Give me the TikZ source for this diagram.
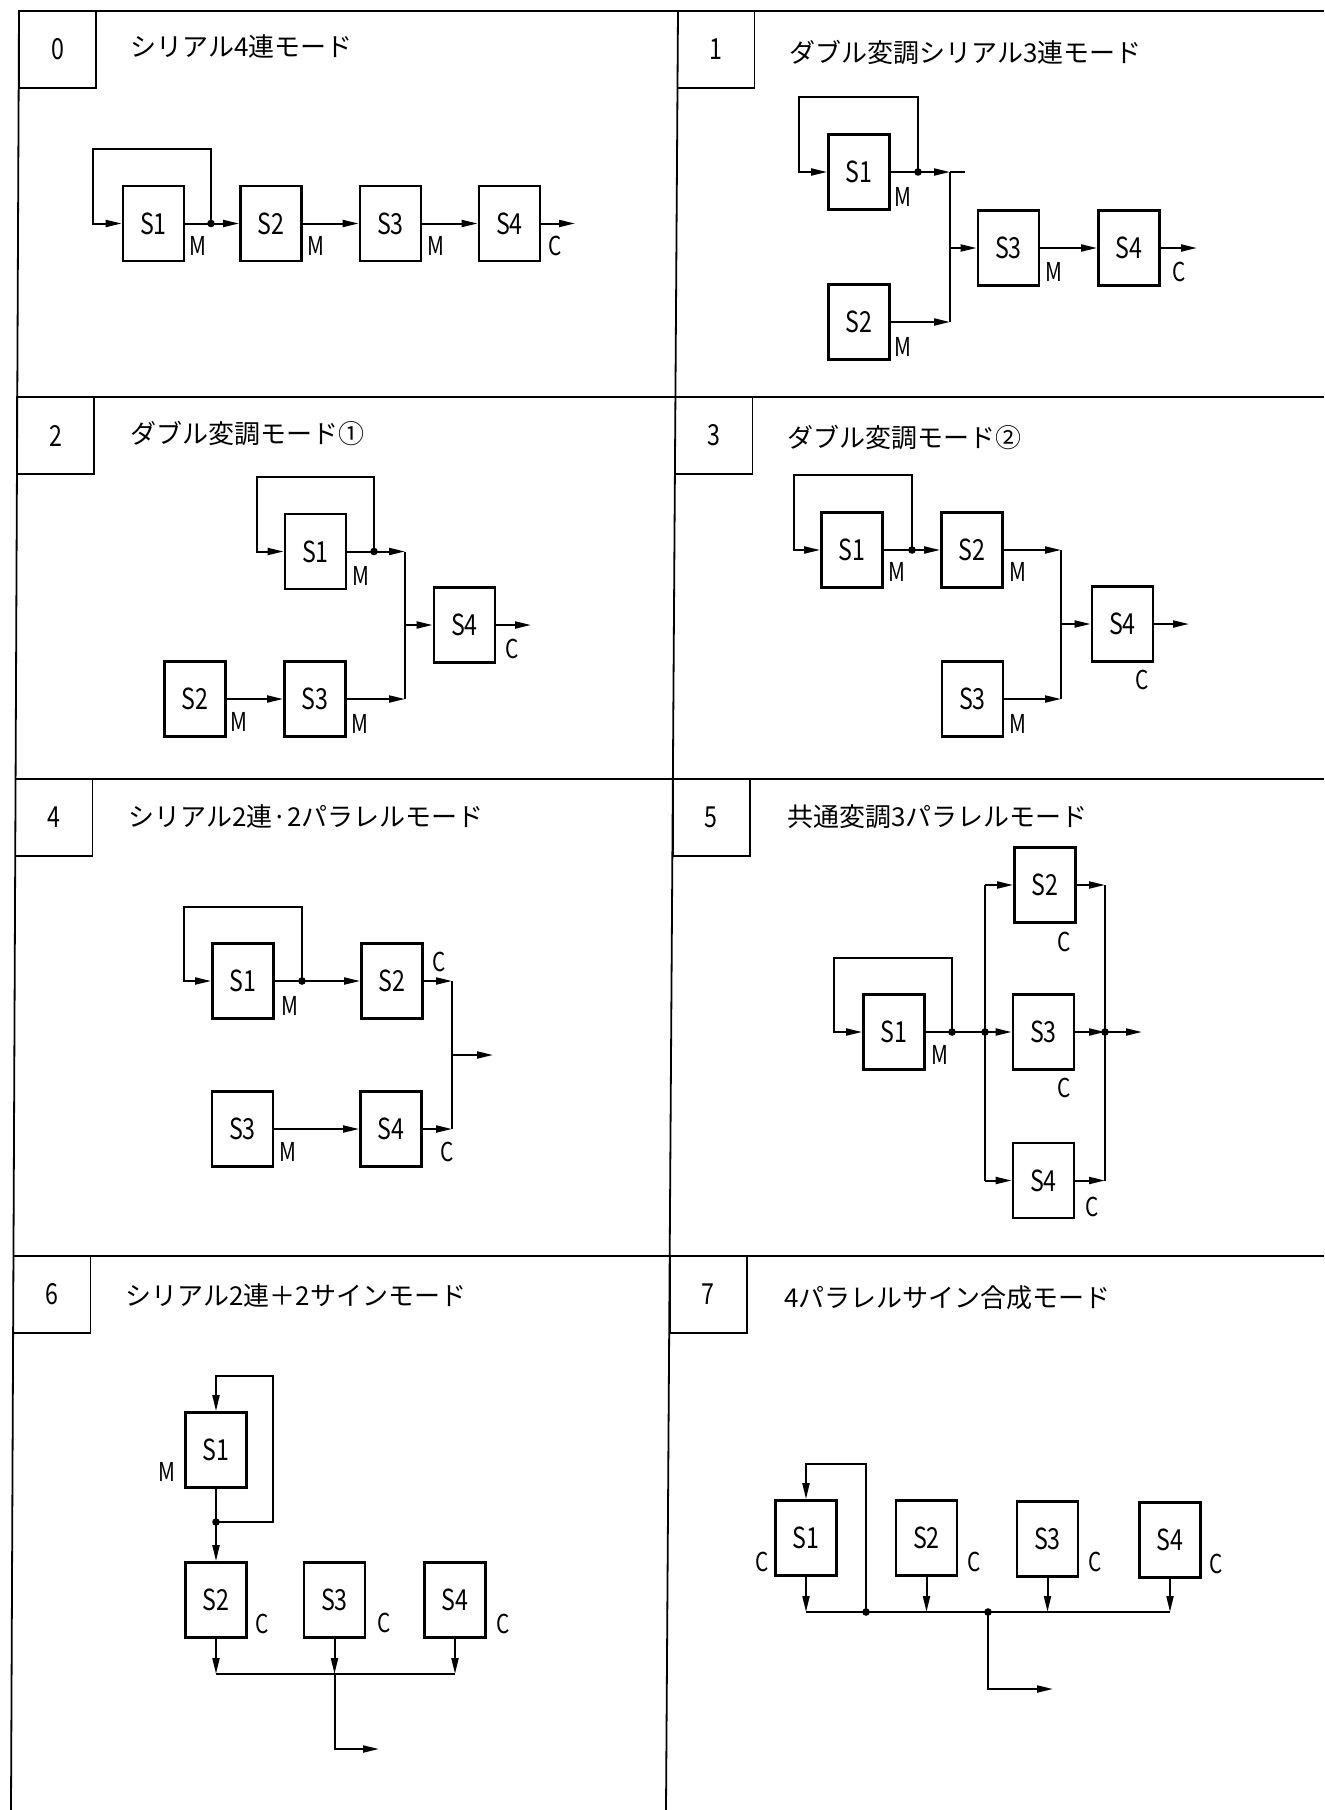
\documentclass[tikz,border=0pt]{standalone}
\usepackage{fontspec}
\setmainfont{Noto Sans CJK JP}
\usetikzlibrary{arrows.meta}
\newcommand\cnd[1]{\scalebox{0.8}[1]{#1}}
\begin{document}
\begin{tikzpicture}[x=0.5pt,y=-0.5pt,
  frame/.style={line width=0.9pt},
  numbox/.style={draw,line width=0.9pt,minimum width=38.5pt,minimum height=38.5pt,inner sep=0pt,font=\fontsize{14.5}{16}\selectfont},
  ttl/.style={anchor=west,inner sep=0pt,font=\fontsize{13}{15}\selectfont},
  sbox/.style={draw,line width=1.4pt,minimum width=30.5pt,minimum height=37.5pt,inner sep=0pt,font=\fontsize{14.5}{16}\selectfont},
  lab/.style={inner sep=0pt,font=\fontsize{13}{14}\selectfont},
  conn/.style={line width=1pt},
  arr/.style={conn,-{Triangle[length=8pt,width=3.5pt]}},
]
\useasboundingbox (0,0) rectangle (1324,1810);
\fill[white] (0,0) rectangle (1324,1810);
% ---------- frame ----------
\draw[frame] (19,11) -- (1324,11);
\draw[frame] (17.2,397) -- (1324,397);
\draw[frame] (15.6,779) -- (1324,779);
\draw[frame] (13.4,1256) -- (1324,1256);
\draw[frame] (19,11) -- (11,1810);
\draw[frame] (678,11) -- (666,1810);
% ---------- number boxes and titles ----------
\node[numbox] (n0) at (57.5,49.5) {\cnd{0}};
\node[numbox] (n1) at (716,49.5) {\cnd{1}};
\node[numbox] (n2) at (55.7,435.5) {\cnd{2}};
\node[numbox] (n3) at (714,435.5) {\cnd{3}};
\node[numbox] (n4) at (54,817.5) {\cnd{4}};
\node[numbox] (n5) at (711.3,817.5) {\cnd{5}};
\node[numbox] (n6) at (52,1294.5) {\cnd{6}};
\node[numbox] (n7) at (708.2,1294.5) {\cnd{7}};
\node[ttl] (t0) at (130,47) {シリアル4連モード};
\node[ttl] (t1) at (789,52) {ダブル変調シリアル3連モード};
\node[ttl] (t2) at (130,433) {ダブル変調モード①};
\node[ttl] (t3) at (787,437) {ダブル変調モード②};
\node[ttl] (t4) at (128,817) {シリアル2連·2パラレルモード};
\node[ttl] (t5) at (787,817) {共通変調3パラレルモード};
\node[ttl] (t6) at (125,1295) {シリアル2連＋2サインモード};
\node[ttl] (t7) at (784,1298) {4パラレルサイン合成モード};
% ---------- panel 0 ----------
\node[sbox] (p0s1) at (153.5,223.5) {\cnd{S1}};
\node[sbox] (p0s2) at (271,223.5) {\cnd{S2}};
\node[sbox] (p0s3) at (390.5,223.5) {\cnd{S3}};
\node[sbox] (p0s4) at (509.5,223.5) {\cnd{S4}};
\node[lab] (p0l1) at (198,246) {\cnd{M}};
\node[lab] (p0l2) at (316,246) {\cnd{M}};
\node[lab] (p0l3) at (436,246) {\cnd{M}};
\node[lab] (p0l4) at (555,246) {\cnd{C}};
\coordinate (p0d) at (211,223.5);
\coordinate (p0fb) at (93,149);
\coordinate (p0o) at (575,223.5);
\draw[conn] (p0s1.east) -- (p0d);
\draw[arr] (p0d) |- (p0fb) |- (p0s1.west);
\draw[arr] (p0d) -- (p0s2.west);
\draw[arr] (p0s2.east) -- (p0s3.west);
\draw[arr] (p0s3.east) -- (p0s4.west);
\draw[arr] (p0s4.east) -- (p0o);
\fill (p0d) circle (3.8);
% ---------- panel 1 ----------
\node[sbox] (p1s1) at (859,172) {\cnd{S1}};
\node[sbox] (p1s2) at (859,322) {\cnd{S2}};
\node[sbox] (p1s3) at (1008.5,248) {\cnd{S3}};
\node[sbox] (p1s4) at (1129,248) {\cnd{S4}};
\node[lab] (p1l1) at (903,197) {\cnd{M}};
\node[lab] (p1l2) at (903,347) {\cnd{M}};
\node[lab] (p1l3) at (1054,272) {\cnd{M}};
\node[lab] (p1l4) at (1179,272) {\cnd{C}};
\coordinate (p1d) at (918,172);
\coordinate (p1fb) at (799,97);
\coordinate (p1bt) at (950,172);
\coordinate (p1bb) at (950,322);
\coordinate (p1bm) at (950,248);
\coordinate (p1stub) at (965,172);
\coordinate (p1o) at (1197,248);
\draw[conn] (p1s1.east) -- (p1d);
\draw[arr] (p1d) |- (p1fb) |- (p1s1.west);
\draw[arr] (p1d) -- (p1bt);
\draw[conn] (p1bt) -- (p1stub);
\draw[conn] (p1bt) -- (p1bb);
\draw[arr] (p1s2.east) -- (p1bb);
\draw[arr] (p1bm) -- (p1s3.west);
\draw[arr] (p1s3.east) -- (p1s4.west);
\draw[arr] (p1s4.east) -- (p1o);
\fill (p1d) circle (3.8);
% ---------- panel 2 ----------
\node[sbox] (p2s1) at (315.5,551.5) {\cnd{S1}};
\node[sbox] (p2s2) at (195,699) {\cnd{S2}};
\node[sbox] (p2s3) at (315,699) {\cnd{S3}};
\node[sbox] (p2s4) at (464.5,625) {\cnd{S4}};
\node[lab] (p2l1) at (361,576) {\cnd{M}};
\node[lab] (p2l2) at (239,722) {\cnd{M}};
\node[lab] (p2l3) at (360,724) {\cnd{M}};
\node[lab] (p2l4) at (512,649) {\cnd{C}};
\coordinate (p2d) at (374,551.5);
\coordinate (p2fb) at (257,477);
\coordinate (p2bt) at (405,551.5);
\coordinate (p2bb) at (405,699);
\coordinate (p2bm) at (405,625);
\coordinate (p2o) at (531,625);
\draw[conn] (p2s1.east) -- (p2d);
\draw[arr] (p2d) |- (p2fb) |- (p2s1.west);
\draw[arr] (p2d) -- (p2bt);
\draw[conn] (p2bt) -- (p2bb);
\draw[arr] (p2s2.east) -- (p2s3.west);
\draw[arr] (p2s3.east) -- (p2bb);
\draw[arr] (p2bm) -- (p2s4.west);
\draw[arr] (p2s4.east) -- (p2o);
\fill (p2d) circle (3.8);
% ---------- panel 3 ----------
\node[sbox] (p3s1) at (852,550) {\cnd{S1}};
\node[sbox] (p3s2) at (972,550) {\cnd{S2}};
\node[sbox] (p3s3) at (972.5,699) {\cnd{S3}};
\node[sbox] (p3s4) at (1122.5,624) {\cnd{S4}};
\node[lab] (p3l1) at (897,572) {\cnd{M}};
\node[lab] (p3l2) at (1018,572) {\cnd{M}};
\node[lab] (p3l3) at (1018,724) {\cnd{M}};
\node[lab] (p3l4) at (1142,680) {\cnd{C}};
\coordinate (p3d) at (912,550);
\coordinate (p3fb) at (794,475);
\coordinate (p3bt) at (1061,550);
\coordinate (p3bb) at (1061,699);
\coordinate (p3bm) at (1061,624);
\coordinate (p3o) at (1189,624);
\draw[conn] (p3s1.east) -- (p3d);
\draw[arr] (p3d) |- (p3fb) |- (p3s1.west);
\draw[arr] (p3d) -- (p3s2.west);
\draw[arr] (p3s2.east) -- (p3bt);
\draw[conn] (p3bt) -- (p3bb);
\draw[arr] (p3s3.east) -- (p3bb);
\draw[arr] (p3bm) -- (p3s4.west);
\draw[arr] (p3s4.east) -- (p3o);
\fill (p3d) circle (3.8);
% ---------- panel 4 ----------
\node[sbox] (p4s1) at (243,981) {\cnd{S1}};
\node[sbox] (p4s2) at (392,981) {\cnd{S2}};
\node[sbox] (p4s3) at (242.5,1129) {\cnd{S3}};
\node[sbox] (p4s4) at (391,1129) {\cnd{S4}};
\node[lab] (p4l1) at (290,1006) {\cnd{M}};
\node[lab] (p4l2) at (439,962) {\cnd{C}};
\node[lab] (p4l3) at (288,1152) {\cnd{M}};
\node[lab] (p4l4) at (447,1152) {\cnd{C}};
\coordinate (p4d) at (302,981);
\coordinate (p4fb) at (184,907);
\coordinate (p4bt) at (452,981);
\coordinate (p4bb) at (452,1129);
\coordinate (p4bm) at (452,1055);
\coordinate (p4o) at (493,1055);
\draw[conn] (p4s1.east) -- (p4d);
\draw[arr] (p4d) |- (p4fb) |- (p4s1.west);
\draw[arr] (p4d) -- (p4s2.west);
\draw[arr] (p4s2.east) -- (p4bt);
\draw[conn] (p4bt) -- (p4bb);
\draw[arr] (p4s3.east) -- (p4s4.west);
\draw[arr] (p4s4.east) -- (p4bb);
\draw[arr] (p4bm) -- (p4o);
\fill (p4d) circle (3.8);
% ---------- panel 5 ----------
\node[sbox] (p5s1) at (894,1032) {\cnd{S1}};
\node[sbox] (p5s2) at (1045,885) {\cnd{S2}};
\node[sbox] (p5s3) at (1043.5,1032) {\cnd{S3}};
\node[sbox] (p5s4) at (1043.5,1180.5) {\cnd{S4}};
\node[lab] (p5l1) at (940,1055) {\cnd{M}};
\node[lab] (p5l2) at (1064,942) {\cnd{C}};
\node[lab] (p5l3) at (1064,1088) {\cnd{C}};
\node[lab] (p5l4) at (1092,1207) {\cnd{C}};
\coordinate (p5d) at (952,1032);
\coordinate (p5fb) at (834,958);
\coordinate (p5lt) at (985,885);
\coordinate (p5lm) at (985,1032);
\coordinate (p5lb) at (985,1180.5);
\coordinate (p5rt) at (1105,885);
\coordinate (p5rm) at (1105,1032);
\coordinate (p5rb) at (1105,1180.5);
\coordinate (p5o) at (1142,1032);
\draw[conn] (p5s1.east) -- (p5lm);
\draw[arr] (p5d) |- (p5fb) |- (p5s1.west);
\draw[conn] (p5lt) -- (p5lb);
\draw[arr] (p5lt) -- (p5s2.west);
\draw[arr] (p5lm) -- (p5s3.west);
\draw[arr] (p5lb) -- (p5s4.west);
\draw[conn] (p5rt) -- (p5rb);
\draw[arr] (p5s2.east) -- (p5rt);
\draw[arr] (p5s3.east) -- (p5rm);
\draw[arr] (p5s4.east) -- (p5rb);
\draw[arr] (p5rm) -- (p5o);
\fill (p5d) circle (3.8);
\fill (p5lm) circle (3.8);
\fill (p5rm) circle (3.8);
% ---------- panel 6 ----------
\node[sbox] (p6s1) at (216,1450) {\cnd{S1}};
\node[sbox] (p6s2) at (216,1600) {\cnd{S2}};
\node[sbox] (p6s3) at (334.5,1600) {\cnd{S3}};
\node[sbox] (p6s4) at (455,1600) {\cnd{S4}};
\node[lab] (p6l1) at (167,1472) {\cnd{M}};
\node[lab] (p6l2) at (262,1624) {\cnd{C}};
\node[lab] (p6l3) at (384,1623) {\cnd{C}};
\node[lab] (p6l4) at (503,1624) {\cnd{C}};
\coordinate (p6d) at (216,1522);
\coordinate (p6fb) at (273,1376);
\coordinate (p6b2) at (216,1674);
\coordinate (p6b3) at (334.5,1674);
\coordinate (p6b4) at (455,1674);
\coordinate (p6o) at (379,1749);
\draw[conn] (p6s1.south) -- (p6d);
\draw[arr] (p6d) -- (p6s2.north);
\draw[arr] (p6d) -| (p6fb) -| (p6s1.north);
\draw[arr] (p6s2.south) -- (p6b2);
\draw[arr] (p6s3.south) -- (p6b3);
\draw[arr] (p6s4.south) -- (p6b4);
\draw[conn] (p6b2) -- (p6b4);
\draw[arr] (p6b3) |- (p6o);
\fill (p6d) circle (3.8);
% ---------- panel 7 ----------
\node[sbox] (p7s1) at (806,1538) {\cnd{S1}};
\node[sbox] (p7s2) at (926.5,1538) {\cnd{S2}};
\node[sbox] (p7s3) at (1047.5,1539) {\cnd{S3}};
\node[sbox] (p7s4) at (1170,1540) {\cnd{S4}};
\node[lab] (p7l1) at (762,1562) {\cnd{C}};
\node[lab] (p7l2) at (974,1562) {\cnd{C}};
\node[lab] (p7l3) at (1095,1562) {\cnd{C}};
\node[lab] (p7l4) at (1216,1564) {\cnd{C}};
\coordinate (p7d) at (866,1612);
\coordinate (p7fb) at (806,1464);
\coordinate (p7b1) at (806,1612);
\coordinate (p7b2) at (926.5,1612);
\coordinate (p7b3) at (1047.5,1612);
\coordinate (p7b4) at (1170,1612);
\coordinate (p7m) at (988,1612);
\coordinate (p7o) at (1053,1689);
\draw[arr] (p7s1.south) -- (p7b1);
\draw[arr] (p7s2.south) -- (p7b2);
\draw[arr] (p7s3.south) -- (p7b3);
\draw[arr] (p7s4.south) -- (p7b4);
\draw[conn] (p7b1) -- (p7b4);
\draw[arr] (p7d) |- (p7fb) -- (p7s1.north);
\draw[arr] (p7m) |- (p7o);
\fill (p7d) circle (3.8);
\fill (p7m) circle (3.8);
\end{tikzpicture}
\end{document}
